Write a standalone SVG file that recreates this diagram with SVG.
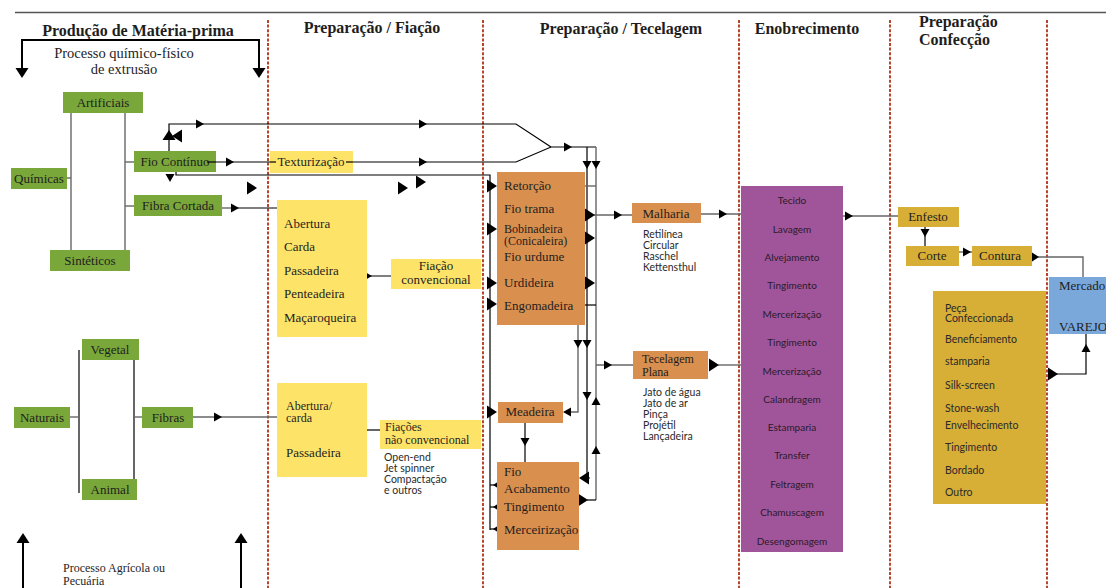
<svg xmlns="http://www.w3.org/2000/svg" xmlns:xlink="http://www.w3.org/1999/xlink" width="1106" height="588" viewBox="0 0 1106 588">
<style>
.t{font-family:"Liberation Serif",serif;font-size:13px;fill:#1e1e1e}
.t2{font-family:"Liberation Serif",serif;font-size:12px;fill:#1e1e1e}
.c{text-anchor:middle}
.h{font-family:"Liberation Serif",serif;font-size:16px;font-weight:bold;fill:#1e1e1e}
.s{font-family:Lato,"Liberation Sans",sans-serif;font-size:10.5px;fill:#2a2a2a}
.p{font-family:Lato,"Liberation Sans",sans-serif;font-size:10px;fill:#2a1a2a;text-anchor:middle}
.g{fill:#7aa73a}
.o{fill:#d98f4e}
.y{fill:#fde468}
.m{fill:#d7ae36}
.sep{stroke:#b8452b;stroke-width:2;stroke-dasharray:3 1.6;fill:none}
.k{stroke:#000;stroke-width:1.2;fill:none}
.gr{stroke:#666;stroke-width:1.4;fill:none}
.br{stroke:#000;stroke-width:2;fill:none}
</style>
<defs>
<path id="ar" d="M-8,-4.5 L0,0 L-8,4.5 Z" fill="#000"/>
<path id="AR" d="M-10,-6.5 L0,0 L-10,6.5 Z" fill="#000"/>
</defs>
<rect width="1106" height="588" fill="#fff"/>
<g id="frame">
<line x1="15" y1="12.5" x2="1106" y2="12.5" stroke="#555" stroke-width="1.6"/>
<line class="sep" x1="268" y1="20" x2="268" y2="588"/>
<line class="sep" x1="483" y1="20" x2="483" y2="588"/>
<line class="sep" x1="739" y1="20" x2="739" y2="588"/>
<line class="sep" x1="890" y1="20" x2="890" y2="588"/>
<line class="sep" x1="1047" y1="20" x2="1047" y2="588"/>
<text class="h c" x="138" y="36">Produção de Matéria-prima</text>
<text class="h c" x="372" y="33">Preparação / Fiação</text>
<text class="h c" x="621" y="34">Preparação / Tecelagem</text>
<text class="h c" x="807" y="34">Enobrecimento</text>
<text class="h" x="919" y="27">Preparação</text>
<text class="h" x="919" y="45">Confecção</text>
<polyline class="br" points="22,72 22,40 259,40 259,72"/>
<use href="#AR" transform="translate(22,78) rotate(90)"/>
<use href="#AR" transform="translate(259,78) rotate(90)"/>
<text class="t c" x="124" y="58" style="font-size:14.5px">Processo químico-físico</text>
<text class="t c" x="124" y="74" style="font-size:14.5px">de extrusão</text>
<line class="br" x1="23" y1="540" x2="23" y2="588"/>
<line class="br" x1="241" y1="540" x2="241" y2="588"/>
<use href="#AR" transform="translate(23,533) rotate(-90)"/>
<use href="#AR" transform="translate(241,533) rotate(-90)"/>
<text class="t" x="63" y="572" style="font-size:12px">Processo Agrícola ou</text>
<text class="t" x="63" y="585" style="font-size:12px">Pecuária</text>
</g>
<g id="connectors">
<line class="gr" x1="71" y1="113" x2="71" y2="252"/>
<line class="gr" x1="125" y1="113" x2="125" y2="252"/>
<line class="gr" x1="67" y1="178" x2="71" y2="178"/>
<line class="gr" x1="125" y1="162" x2="134" y2="162"/>
<line class="gr" x1="125" y1="206" x2="134" y2="206"/>
<line class="k" x1="79" y1="350" x2="79" y2="493"/>
<line class="k" x1="134" y1="350" x2="134" y2="493"/>
<line class="gr" x1="70" y1="417" x2="79" y2="417"/>
<line class="gr" x1="134" y1="417" x2="142" y2="417"/>
<line class="gr" x1="193" y1="417" x2="278" y2="417"/>
<use href="#ar" transform="translate(222,417)"/>
<line class="gr" x1="222" y1="208" x2="236" y2="208"/>
<line class="k" x1="236" y1="208" x2="278" y2="208"/>
<use href="#ar" transform="translate(239,208)"/>
<polyline class="k" points="169,151 169,124 516,124 551,147"/>
<use href="#ar" transform="translate(204,124)"/>
<use href="#ar" transform="translate(427,124)"/>
<polyline class="k" points="216,162 516,162 551,147 596,147"/>
<use href="#ar" transform="translate(234,162)"/>
<use href="#ar" transform="translate(427,162)"/>
<use href="#ar" transform="translate(572,147)"/>
<use href="#AR" transform="translate(169,130) rotate(-90)"/>
<use href="#AR" transform="translate(172,136) rotate(180)"/>
<polyline class="k" points="176,172 176,175 490,175 490,530"/>
<use href="#ar" transform="translate(170,182) rotate(90)"/>
<use href="#ar" transform="translate(312,173) rotate(90)"/>
<use href="#AR" transform="translate(257,188)"/>
<use href="#AR" transform="translate(408,188)"/>
<use href="#AR" transform="translate(426,182)"/>
<line class="k" x1="355" y1="276" x2="391" y2="276"/>
<use href="#ar" transform="translate(372,276)"/>
<line class="k" x1="367" y1="430" x2="390" y2="430"/>
<use href="#AR" transform="translate(497,186)"/>
<use href="#AR" transform="translate(497,229)"/>
<use href="#AR" transform="translate(497,283)"/>
<use href="#AR" transform="translate(497,304)"/>
<use href="#AR" transform="translate(497,412)"/>
<line class="k" x1="490" y1="485" x2="497" y2="485"/>
<line class="k" x1="490" y1="507" x2="497" y2="507"/>
<line class="k" x1="490" y1="529" x2="497" y2="529"/>
<use href="#AR" transform="translate(493,485) rotate(180)"/>
<use href="#AR" transform="translate(493,507) rotate(180)"/>
<use href="#AR" transform="translate(493,529) rotate(180)"/>
<polyline class="gr" points="578,200 578,412 566,412"/>
<use href="#ar" transform="translate(563,412) rotate(180)"/>
<use href="#ar" transform="translate(578,348) rotate(90)"/>
<polyline class="k" points="587,147 587,478 590,478"/>
<line class="gr" x1="596" y1="147" x2="596" y2="500"/>
<use href="#ar" transform="translate(587,169) rotate(90)"/>
<use href="#ar" transform="translate(596,169) rotate(90)"/>
<use href="#ar" transform="translate(587,348) rotate(90)"/>
<use href="#ar" transform="translate(587,400) rotate(90)"/>
<use href="#ar" transform="translate(596,397) rotate(-90)"/>
<use href="#ar" transform="translate(596,446) rotate(-90)"/>
<line class="gr" x1="585" y1="186" x2="596" y2="186"/>
<use href="#AR" transform="translate(585,186)"/>
<line class="gr" x1="594" y1="215" x2="632" y2="215"/>
<use href="#AR" transform="translate(586,215)"/>
<use href="#AR" transform="translate(595,215)"/>
<use href="#ar" transform="translate(622,215)"/>
<use href="#AR" transform="translate(586,238)"/>
<use href="#AR" transform="translate(595,238)"/>
<use href="#AR" transform="translate(595,283)"/>
<line class="k" x1="585" y1="305" x2="596" y2="305"/>
<line class="gr" x1="596" y1="365" x2="633" y2="365"/>
<use href="#ar" transform="translate(612,365)"/>
<use href="#AR" transform="translate(579,478) rotate(180)"/>
<line class="k" x1="587" y1="500" x2="596" y2="500"/>
<use href="#AR" transform="translate(588,500)"/>
<line class="k" x1="525" y1="423" x2="525" y2="462"/>
<use href="#ar" transform="translate(525,446) rotate(90)"/>
<line class="gr" x1="701" y1="214" x2="741" y2="214"/>
<use href="#ar" transform="translate(727,214)"/>
<line class="gr" x1="718" y1="365" x2="741" y2="365"/>
<use href="#AR" transform="translate(719,365)"/>
<line class="gr" x1="835" y1="216" x2="898" y2="216"/>
<use href="#ar" transform="translate(853,216)"/>
<line class="k" x1="925" y1="227" x2="925" y2="246"/>
<use href="#ar" transform="translate(925,237) rotate(90)"/>
<line class="gr" x1="952" y1="252" x2="972" y2="252"/>
<use href="#ar" transform="translate(971,252)"/>
<polyline class="gr" points="1036,257 1083,257 1083,277"/>
<use href="#AR" transform="translate(1039,257)"/>
<polyline class="k" points="1050,374 1086,374 1086,334"/>
<use href="#AR" transform="translate(1058,374)"/>
<use href="#ar" transform="translate(1086,344) rotate(-90)"/>
</g>
<g id="n-artificiais"><rect class="g" x="63" y="92" width="80" height="21"/><text class="t c" x="103" y="107">Artificiais</text></g>
<g id="n-quimicas"><rect class="g" x="11" y="168" width="56" height="21"/><text class="t c" x="39" y="183">Químicas</text></g>
<g id="n-fiocontinuo"><rect class="g" x="134" y="151" width="82" height="21"/><text class="t c" x="175" y="166">Fio Contínuo</text><line class="k" x1="207" y1="162" x2="216" y2="162"/></g>
<g id="n-fibracortada"><rect class="g" x="134" y="195" width="88" height="21"/><text class="t c" x="178" y="210">Fibra Cortada</text></g>
<g id="n-sinteticos"><rect class="g" x="50" y="250" width="80" height="21"/><text class="t c" x="90" y="265">Sintéticos</text></g>
<g id="n-vegetal"><rect class="g" x="82" y="339" width="57" height="21"/><text class="t c" x="110" y="354">Vegetal</text></g>
<g id="n-naturais"><rect class="g" x="14" y="407" width="56" height="21"/><text class="t c" x="42" y="422">Naturais</text></g>
<g id="n-fibras"><rect class="g" x="142" y="407" width="51" height="21"/><text class="t c" x="168" y="422">Fibras</text></g>
<g id="n-animal"><rect class="g" x="82" y="479" width="55" height="21"/><text class="t c" x="110" y="494">Animal</text></g>
<g id="n-texturizacao"><rect class="y" x="270" y="151" width="83" height="22"/><line class="k" x1="270" y1="162" x2="276" y2="162"/><line class="k" x1="346" y1="162" x2="353" y2="162"/><text class="t c" x="311" y="166">Texturização</text></g>
<g id="n-fiacao1"><rect class="y" x="277" y="200" width="90" height="137"/>
<text class="t" x="284" y="228">Abertura</text><text class="t" x="284" y="251">Carda</text><text class="t" x="284" y="275">Passadeira</text><text class="t" x="284" y="298">Penteadeira</text><text class="t" x="284" y="322">Maçaroqueira</text></g>
<g id="n-fiacaoconv"><rect class="y" x="391" y="259" width="90" height="30"/><text class="t c" x="436" y="270">Fiação</text><text class="t c" x="436" y="284">convencional</text></g>
<g id="n-fiacao2"><rect class="y" x="277" y="383" width="90" height="94"/>
<text class="t2" x="286" y="410">Abertura/</text><text class="t2" x="286" y="422">carda</text><text class="t" x="286" y="457">Passadeira</text></g>
<g id="n-fiacaonconv"><rect class="y" x="380" y="420" width="101" height="29"/><text class="t2" x="385" y="431">Fiações</text><text class="t2" x="385" y="444">não convencional</text>
<text class="s" x="384" y="461">Open-end</text><text class="s" x="384" y="472">Jet spinner</text><text class="s" x="384" y="483">Compactação</text><text class="s" x="384" y="494">e outros</text></g>
<g id="n-preparacao"><rect class="o" x="497" y="172" width="88" height="153"/>
<text class="t" x="504" y="190">Retorção</text><text class="t" x="504" y="213">Fio trama</text><text class="t2" x="504" y="233">Bobinadeira</text><text class="t2" x="504" y="245">(Conicaleira)</text><text class="t" x="504" y="261">Fio urdume</text><text class="t" x="504" y="287">Urdideira</text><text class="t" x="504" y="310">Engomadeira</text></g>
<g id="n-meadeira"><rect class="o" x="498" y="402" width="65" height="21"/><text class="t c" x="530" y="416">Meadeira</text></g>
<g id="n-fioacab"><rect class="o" x="497" y="462" width="82" height="88"/>
<text class="t" x="504" y="476">Fio</text><text class="t" x="504" y="493">Acabamento</text><text class="t" x="504" y="511">Tingimento</text><text class="t" x="504" y="534">Merceirização</text></g>
<g id="n-malharia"><rect class="o" x="632" y="203" width="69" height="20"/><text class="t c" x="666" y="218">Malharia</text>
<text class="s" x="643" y="238">Retilínea</text><text class="s" x="643" y="249">Circular</text><text class="s" x="643" y="260">Raschel</text><text class="s" x="643" y="271">Kettensthul</text></g>
<g id="n-tecelagem"><rect class="o" x="633" y="351" width="75" height="28"/><text class="t2" x="642" y="363">Tecelagem</text><text class="t2" x="642" y="376">Plana</text>
<text class="s" x="643" y="396">Jato de água</text><text class="s" x="643" y="407">Jato de ar</text><text class="s" x="643" y="418">Pinça</text><text class="s" x="643" y="429">Projétil</text><text class="s" x="643" y="440">Lançadeira</text></g>
<g id="n-enobrecimento"><rect x="741" y="186" width="102" height="366" fill="#a0559a"/>
<text class="p" x="792" y="204">Tecido</text><text class="p" x="792" y="233">Lavagem</text><text class="p" x="792" y="261">Alvejamento</text><text class="p" x="792" y="289">Tingimento</text><text class="p" x="792" y="318">Mercerização</text><text class="p" x="792" y="346">Tingimento</text><text class="p" x="792" y="375">Mercerização</text><text class="p" x="792" y="403">Calandragem</text><text class="p" x="792" y="431">Estamparia</text><text class="p" x="792" y="459">Transfer</text><text class="p" x="792" y="488">Feltragem</text><text class="p" x="792" y="516">Chamuscagem</text><text class="p" x="792" y="545">Desengomagem</text></g>
<g id="n-enfesto"><rect class="m" x="898" y="207" width="61" height="20"/><text class="t c" x="928" y="221">Enfesto</text></g>
<g id="n-corte"><rect class="m" x="906" y="246" width="53" height="20"/><text class="t c" x="932" y="260">Corte</text></g>
<g id="n-contura"><rect class="m" x="972" y="246" width="60" height="20"/><text class="t c" x="1000" y="260">Contura</text></g>
<g id="n-peca"><rect class="m" x="933" y="291" width="113" height="213"/>
<text class="s" x="945" y="312">Peça</text><text class="s" x="945" y="322">Confeccionada</text><text class="s" x="945" y="343">Beneficiamento</text><text class="s" x="945" y="365">stamparia</text><text class="s" x="945" y="389">Silk-screen</text><text class="s" x="945" y="412">Stone-wash</text><text class="s" x="945" y="429">Envelhecimento</text><text class="s" x="945" y="451">Tingimento</text><text class="s" x="945" y="474">Bordado</text><text class="s" x="945" y="496">Outro</text></g>
<g id="n-mercado"><rect x="1049" y="277" width="57" height="57" fill="#7ba8db"/><text class="t" x="1059" y="290">Mercado</text><text class="t" x="1059" y="331">VAREJO</text></g>
</svg>
